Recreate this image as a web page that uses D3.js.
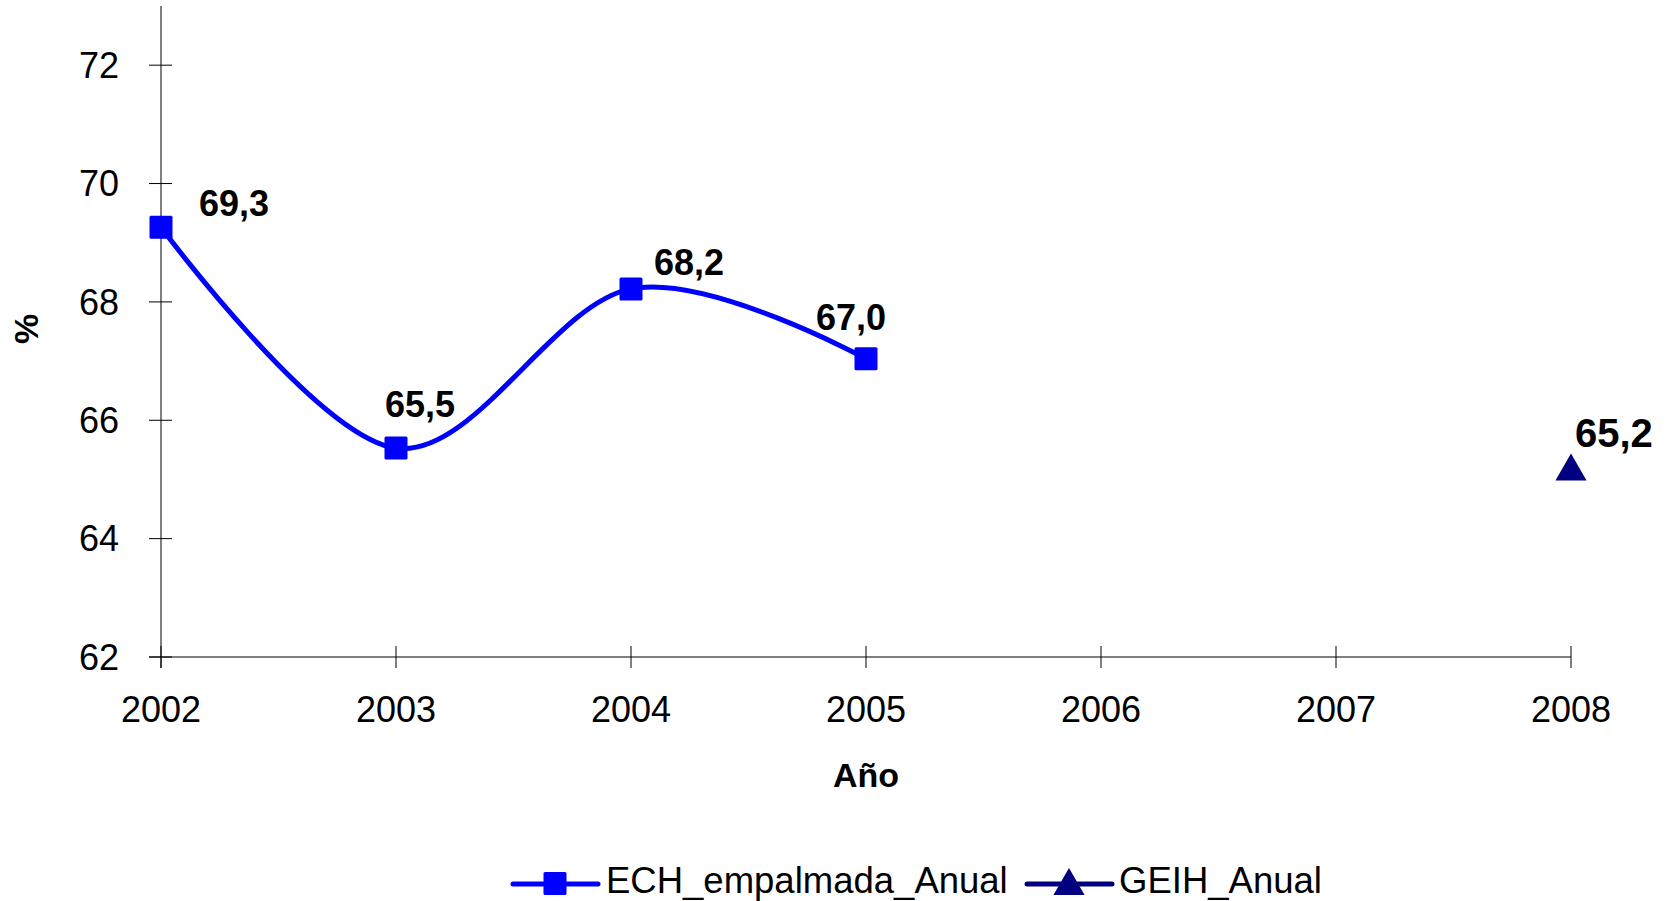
<!DOCTYPE html>
<html>
<head>
<meta charset="utf-8">
<script src="https://cdn.jsdelivr.net/npm/d3@7"></script>
<style>
  body { margin: 0; background: #fff; }
  text { font-family: "Liberation Sans", Arial, sans-serif; }
</style>
</head>
<body>
<div id="chart"></div>
<script>
// data
var years = [2002, 2003, 2004, 2005, 2006, 2007, 2008];
var echYears = [2002, 2003, 2004, 2005];
var echValues = [69.26, 65.53, 68.22, 67.04];
var geihYears = [2008];
var geihValues = [65.17];
var yTicks = [62, 64, 66, 68, 70, 72];

// label placement (dx, dy from the marker, text-anchor start)
var echLabelOffsets = [[38, -11], [-11, -31], [23, -14], [-50, -29]];
var geihLabelOffsets = [[4, -22]];

var svgWidth = 1673;
var svgHeight = 901;

var svg = d3.select("#chart")
  .append("svg")
  .attr("width", svgWidth)
  .attr("height", svgHeight);

var xScale = d3.scaleLinear()
  .domain([2002, 2008])
  .range([161, 1571]);

var yScale = d3.scaleLinear()
  .domain([62, 73])
  .range([657, 6]);

// y axis
var yAxis = svg.append("g");
yAxis.append("line")
  .attr("x1", xScale(2002)).attr("x2", xScale(2002))
  .attr("y1", yScale(73)).attr("y2", yScale(62) + 11)
  .attr("stroke", "#000").attr("stroke-width", 1);
yAxis.selectAll(".ytick")
  .data(yTicks)
  .enter()
  .append("line")
  .attr("x1", xScale(2002) - 12)
  .attr("x2", xScale(2002) + 11)
  .attr("y1", d => yScale(d))
  .attr("y2", d => yScale(d))
  .attr("stroke", "#000").attr("stroke-width", 1);
yAxis.selectAll(".ylabel")
  .data(yTicks)
  .enter()
  .append("text")
  .attr("x", 119)
  .attr("y", d => yScale(d))
  .attr("dy", "0.35em")
  .attr("text-anchor", "end")
  .attr("font-size", 36)
  .text(d => d);

// x axis
var xAxis = svg.append("g");
xAxis.append("line")
  .attr("x1", xScale(2002) - 12).attr("x2", xScale(2008))
  .attr("y1", yScale(62)).attr("y2", yScale(62))
  .attr("stroke", "#000").attr("stroke-width", 1);
xAxis.selectAll(".xtick")
  .data(years)
  .enter()
  .append("line")
  .attr("x1", d => xScale(d))
  .attr("x2", d => xScale(d))
  .attr("y1", yScale(62) - 11)
  .attr("y2", yScale(62) + 11)
  .attr("stroke", "#000").attr("stroke-width", 1);
xAxis.selectAll(".xlabel")
  .data(years)
  .enter()
  .append("text")
  .attr("x", d => xScale(d))
  .attr("y", 722)
  .attr("text-anchor", "middle")
  .attr("font-size", 36)
  .text(d => d);

// axis titles
svg.append("text")
  .attr("x", (xScale(2002) + xScale(2008)) / 2)
  .attr("y", 787)
  .attr("text-anchor", "middle")
  .attr("font-size", 34)
  .attr("font-weight", "bold")
  .text("Año");

svg.append("text")
  .attr("transform", "translate(38, 329) rotate(-90)")
  .attr("text-anchor", "middle")
  .attr("font-size", 34)
  .attr("font-weight", "bold")
  .text("%");

// ECH line
var echData = echYears.map((y, i) => ({ year: y, value: echValues[i] }));
var geihData = geihYears.map((y, i) => ({ year: y, value: geihValues[i] }));

var line = d3.line()
  .x(d => xScale(d.year))
  .y(d => yScale(d.value))
  .curve(d3.curveCatmullRom.alpha(0));

svg.append("path")
  .datum(echData)
  .attr("d", line)
  .attr("fill", "none")
  .attr("stroke", "#0000FF")
  .attr("stroke-width", 5)
  .attr("stroke-linejoin", "round");

svg.selectAll(".echMarker")
  .data(echData)
  .enter()
  .append("rect")
  .attr("x", d => xScale(d.year) - 11.5)
  .attr("y", d => yScale(d.value) - 11.5)
  .attr("width", 23)
  .attr("height", 23)
  .attr("rx", 1.5)
  .attr("fill", "#0000FF");

var triangle = d3.symbol().type(d3.symbolTriangle).size(420);

svg.selectAll(".geihMarker")
  .data(geihData)
  .enter()
  .append("path")
  .attr("d", triangle)
  .attr("transform", d => `translate(${xScale(d.year)}, ${yScale(d.value) + 2})`)
  .attr("fill", "#000080");

// data labels
var fmt = d => d3.format(".1f")(d).replace(".", ",");

svg.selectAll(".echLabel")
  .data(echData)
  .enter()
  .append("text")
  .attr("x", (d, i) => xScale(d.year) + echLabelOffsets[i][0])
  .attr("y", (d, i) => yScale(d.value) + echLabelOffsets[i][1])
  .attr("font-size", 36)
  .attr("font-weight", "bold")
  .text(d => fmt(d.value));

svg.selectAll(".geihLabel")
  .data(geihData)
  .enter()
  .append("text")
  .attr("x", (d, i) => xScale(d.year) + geihLabelOffsets[i][0])
  .attr("y", (d, i) => yScale(d.value) + geihLabelOffsets[i][1])
  .attr("font-size", 40)
  .attr("font-weight", "bold")
  .text(d => fmt(d.value));

// legend
var legend = svg.append("g");
var ly = 884;

legend.append("line")
  .attr("x1", 513).attr("x2", 598)
  .attr("y1", ly).attr("y2", ly)
  .attr("stroke", "#0000FF").attr("stroke-width", 5)
  .attr("stroke-linecap", "round");
legend.append("rect")
  .attr("x", 555 - 11.5).attr("y", ly - 12)
  .attr("width", 23).attr("height", 23)
  .attr("rx", 1.5)
  .attr("fill", "#0000FF");
legend.append("text")
  .attr("x", 606)
  .attr("y", 893)
  .attr("font-size", 36.5)
  .text("ECH_empalmada_Anual");

legend.append("line")
  .attr("x1", 1027).attr("x2", 1112)
  .attr("y1", ly).attr("y2", ly)
  .attr("stroke", "#000080").attr("stroke-width", 5)
  .attr("stroke-linecap", "round");
legend.append("path")
  .attr("d", triangle)
  .attr("transform", `translate(1069, ${ly + 2})`)
  .attr("fill", "#000080");
legend.append("text")
  .attr("x", 1119)
  .attr("y", 893)
  .attr("font-size", 36.5)
  .text("GEIH_Anual");
</script>
</body>
</html>
